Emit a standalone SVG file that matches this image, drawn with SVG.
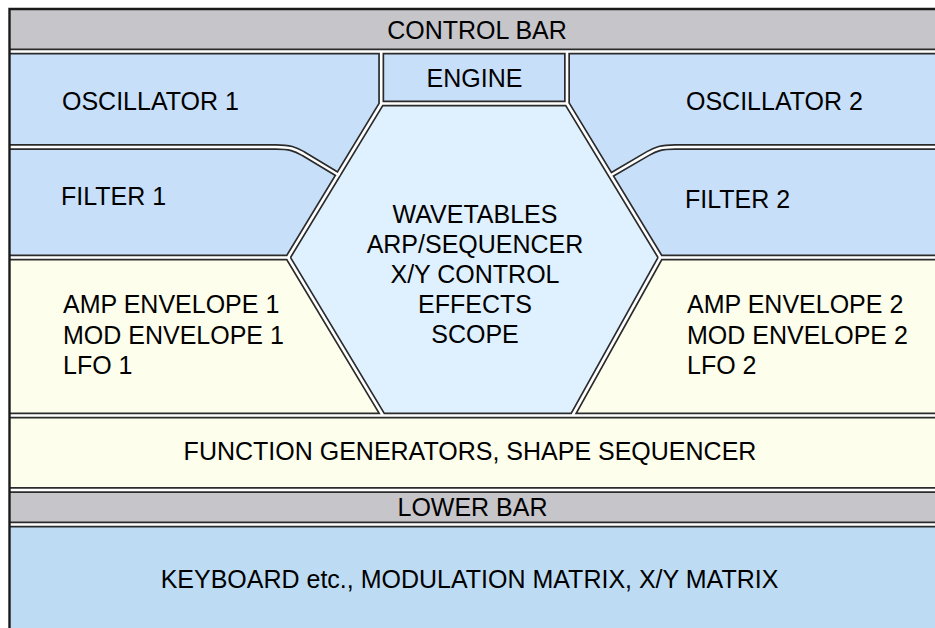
<svg xmlns="http://www.w3.org/2000/svg" width="935" height="628" viewBox="0 0 935 628">
<style>
  .t{font-family:"Liberation Sans",Arial,sans-serif;font-size:25px;fill:#000000}
  .m{text-anchor:middle}
  .gray{fill:#c6c5ca}
  .blue{fill:#c8dffa}
  .hex{fill:#dff0fe}
  .cream{fill:#fefeec}
  .kb{fill:#bddcf4}
  .bd{fill:none;stroke:#2b2b2b;stroke-width:6;stroke-linejoin:miter;stroke-linecap:butt}
  .bw{fill:none;stroke:#ffffff;stroke-width:2.6;stroke-linejoin:miter;stroke-linecap:butt}
  .frame{fill:none;stroke:#1a1a1a;stroke-width:2.4}
</style>
<defs>
  <path id="sepPaths" d="M9,51.5 H940 M381.2,51.5 V103.5 H567 V51.5 M381.5,103.5 L288,257.5 L383,415.5 M567,103.5 L660.5,257.5 L572.5,415.5 M9,147 H276 C290,147 295,149 303,153.5 L339.5,175.5 M940,147 H675 C661,147 656,149 648,153.5 L609.5,176 M9,257.5 H290 M658.5,257.5 H940 M9,415.5 H940 M9,490 H940 M9,524.5 H940"/>
</defs>
<rect x="0" y="0" width="935" height="628" fill="#ffffff"/>
<g id="control-bar">
  <rect class="gray" x="9" y="8" width="931" height="43.5"/>
  <text class="t m" x="477" y="39">CONTROL BAR</text>
</g>
<g id="oscillator-1">
  <path class="blue" d="M9,51.5 H381.2 V103.5 L338.25,174.5 L303,153.5 C295,149 290,147 276,147 H9 Z"/>
  <text class="t" x="62" y="110">OSCILLATOR 1</text>
</g>
<g id="filter-1">
  <path class="blue" d="M9,147 H276 C290,147 295,149 303,153.5 L338.25,174.5 L288,257.5 H9 Z"/>
  <text class="t" x="61" y="205">FILTER 1</text>
</g>
<g id="engine">
  <rect class="blue" x="381.2" y="51.5" width="185.8" height="52"/>
  <text class="t m" x="474.5" y="87">ENGINE</text>
</g>
<g id="oscillator-2">
  <path class="blue" d="M567,51.5 H940 V147 H675 C661,147 656,149 648,153.5 L610.5,175 L567,103.5 Z"/>
  <text class="t" x="686" y="110">OSCILLATOR 2</text>
</g>
<g id="filter-2">
  <path class="blue" d="M940,147 H675 C661,147 656,149 648,153.5 L610.5,175 L660.5,257.5 H940 Z"/>
  <text class="t" x="685" y="208">FILTER 2</text>
</g>
<g id="amp-mod-lfo-1">
  <path class="cream" d="M9,257.5 H288 L383,415.5 H9 Z"/>
  <text class="t" x="63" y="313">AMP ENVELOPE 1</text>
  <text class="t" x="63" y="343.5">MOD ENVELOPE 1</text>
  <text class="t" x="63" y="374">LFO 1</text>
</g>
<g id="amp-mod-lfo-2">
  <path class="cream" d="M660.5,257.5 H940 V415.5 H572.5 Z"/>
  <text class="t" x="687" y="313">AMP ENVELOPE 2</text>
  <text class="t" x="687" y="343.5">MOD ENVELOPE 2</text>
  <text class="t" x="687" y="374">LFO 2</text>
</g>
<g id="center-hexagon">
  <path class="hex" d="M381.5,103.5 H567 L660.5,257.5 L572.5,415.5 H383 L288,257.5 Z"/>
  <text class="t m" x="475" y="223">WAVETABLES</text>
  <text class="t m" x="475" y="253">ARP/SEQUENCER</text>
  <text class="t m" x="475" y="283">X/Y CONTROL</text>
  <text class="t m" x="475" y="313">EFFECTS</text>
  <text class="t m" x="475" y="343">SCOPE</text>
</g>
<g id="function-generators">
  <rect class="cream" x="9" y="415.5" width="931" height="74.5"/>
  <text class="t m" x="470" y="460">FUNCTION GENERATORS, SHAPE SEQUENCER</text>
</g>
<g id="lower-bar">
  <rect class="gray" x="9" y="490" width="931" height="34.5"/>
  <text class="t m" x="472.5" y="516">LOWER BAR</text>
</g>
<g id="keyboard-matrix">
  <rect class="kb" x="9" y="524.5" width="931" height="110"/>
  <text class="t m" x="469.5" y="588">KEYBOARD etc., MODULATION MATRIX, X/Y MATRIX</text>
</g>
<g id="connectors">
  <use href="#sepPaths" class="bd"/>
  <use href="#sepPaths" class="bw"/>
  <path class="frame" d="M9.5,628 V9 H940"/>
</g>
</svg>
